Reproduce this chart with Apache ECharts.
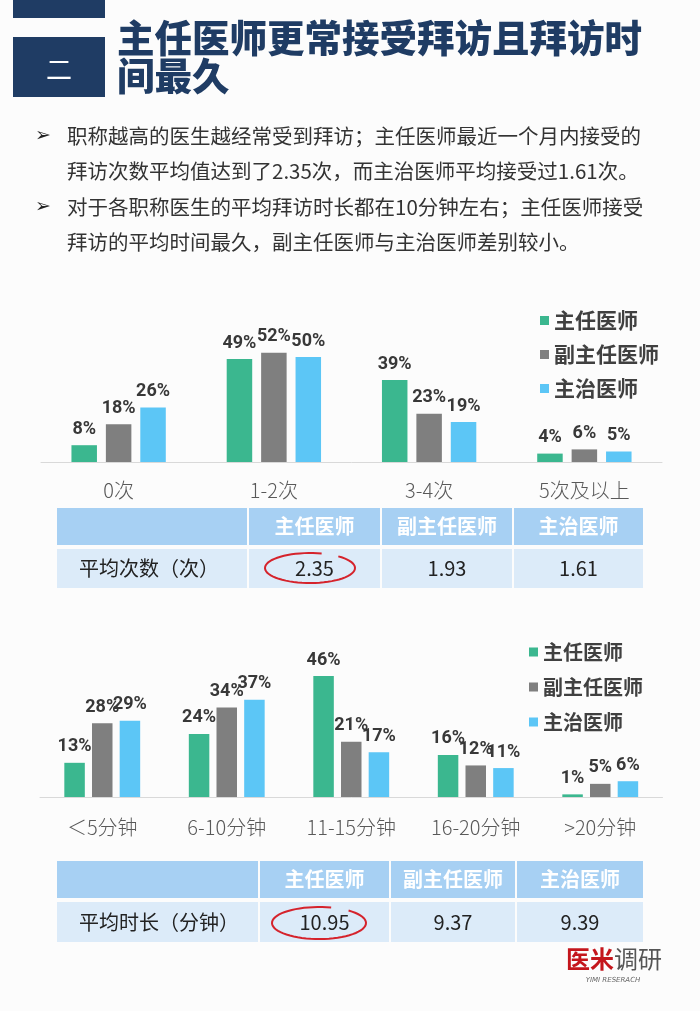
<!DOCTYPE html>
<html>
<head>
<meta charset="utf-8">
<script src="https://cdn.jsdelivr.net/npm/echarts@6/dist/echarts.min.js"></script>
<style>
html,body{margin:0;padding:0;background:#fcfcfc;}
#c{width:700px;height:1011px;}
</style>
</head>
<body>
<div id="c"></div>
<script>
// ---------- data ----------
const seriesNames = ['主任医师', '副主任医师', '主治医师'];
const visitCats = ['0次', '1-2次', '3-4次', '5次及以上'];
const visitZhuren = [8, 49, 39, 4];
const visitFuzhuren = [18, 52, 23, 6];
const visitZhuzhi = [26, 50, 19, 5];

const timeCats = ['＜5分钟', '6-10分钟', '11-15分钟', '16-20分钟', '>20分钟'];
const timeZhuren = [13, 24, 46, 16, 1];
const timeFuzhuren = [28, 34, 21, 12, 5];
const timeZhuzhi = [29, 37, 17, 11, 6];

const tableHeader = ['主任医师', '副主任医师', '主治医师'];
const avgCountLabel = '平均次数（次）';
const avgCount = ['2.35', '1.93', '1.61'];
const avgTimeLabel = '平均时长（分钟）';
const avgTime = ['10.95', '9.37', '9.39'];

const titleLines = ['主任医师更常接受拜访且拜访时', '间最久'];
const bulletLines = [
  ['➢', '职称越高的医生越经常受到拜访；主任医师最近一个月内接受的'],
  ['', '拜访次数平均值达到了2.35次，而主治医师平均接受过1.61次。'],
  ['➢', '对于各职称医生的平均拜访时长都在10分钟左右；主任医师接受'],
  ['', '拜访的平均时间最久，副主任医师与主治医师差别较小。']
];

// ---------- styles ----------
const colors = ['#3bb78f', '#7f7f7f', '#5cc6f6'];
const navy = '#1f3c64';
const CJK = '"Noto Sans CJK SC", "Noto Sans", sans-serif';
const headBg = '#a7d0f3';
const rowBg = '#dcebf9';

const chart = echarts.init(document.getElementById('c'), null, {renderer: 'canvas'});

function barSeries(name, data, idx, color, bw) {
  return {
    name: name, type: 'bar', data: data,
    xAxisIndex: idx, yAxisIndex: idx,
    barWidth: bw, barGap: '35%',
    itemStyle: {color: color},
    label: {
      show: true, position: 'top', distance: 7,
      formatter: '{c}%',
      fontFamily: 'Roboto, "Noto Sans", sans-serif',
      fontWeight: 'bold', fontSize: 18, color: '#383838'
    },
    emphasis: {disabled: true}
  };
}

// ---------- graphics ----------
const g = [];
g.push({type: 'rect', shape: {x: 13, y: 0, width: 92, height: 18}, style: {fill: navy}});
g.push({type: 'rect', shape: {x: 13, y: 37, width: 92, height: 60}, style: {fill: navy}});
g.push({type: 'text', x: 59, y: 69, style: {text: '二', fill: '#fff', font: '26px ' + CJK, align: 'center', verticalAlign: 'middle'}});
titleLines.forEach((t, i) => {
  g.push({type: 'text', x: 117, y: 38 + i * 38, style: {text: t, fill: navy, font: '900 37.5px ' + CJK, verticalAlign: 'middle'}});
});
const bulletY = [136, 171, 207, 242];
bulletLines.forEach((b, i) => {
  if (b[0]) g.push({type: 'text', x: 43, y: bulletY[i], style: {text: b[0], fill: '#222', font: 'bold 19px "DejaVu Sans"', align: 'center', verticalAlign: 'middle'}});
  g.push({type: 'text', x: 67, y: bulletY[i], style: {text: b[1], fill: '#333', font: '20.5px ' + CJK, verticalAlign: 'middle'}});
});

function table(cols, headY, headH, rowY, rowH, label, values) {
  cols.forEach((c, i) => {
    g.push({type: 'rect', shape: {x: c[0], y: headY, width: c[1] - c[0], height: headH}, style: {fill: headBg}});
    g.push({type: 'rect', shape: {x: c[0], y: rowY, width: c[1] - c[0], height: rowH}, style: {fill: rowBg}});
    const cx = (c[0] + c[1]) / 2;
    if (i > 0) {
      g.push({type: 'text', x: cx, y: headY + headH / 2, style: {text: tableHeader[i - 1], fill: '#fff', font: 'bold 20px ' + CJK, align: 'center', verticalAlign: 'middle'}});
      g.push({type: 'text', x: cx, y: rowY + rowH / 2, style: {text: values[i - 1], fill: '#222', font: '20px ' + CJK, align: 'center', verticalAlign: 'middle'}});
    } else {
      g.push({type: 'text', x: c[0] + 22, y: rowY + rowH / 2, style: {text: label, fill: '#222', font: '20px ' + CJK, verticalAlign: 'middle'}});
    }
  });
}
table([[57, 247], [249, 380], [382, 512], [514, 643]], 508, 37, 549, 39, avgCountLabel, avgCount);
table([[57, 258], [260, 389], [391, 515], [517, 643]], 861, 37, 902, 40, avgTimeLabel, avgTime);

// hand-drawn style open ellipse annotation
function circle(cx, cy, rx, ry) {
  const pts = [];
  for (let k = 0; k <= 60; k++) {
    const a = (-75 - k * 5.6) * Math.PI / 180;
    pts.push([cx + rx * Math.cos(a), cy + ry * Math.sin(a)]);
  }
  g.push({type: 'polyline', shape: {points: pts}, style: {stroke: '#d5232c', lineWidth: 2, fill: null}});
}
circle(310, 568, 45, 15);
circle(319, 923, 47, 16);

// logo
g.push({type: 'text', x: 566, y: 959, style: {
  text: '{a|医米}{b|调研}', verticalAlign: 'middle',
  rich: {a: {fill: '#c4161c', font: 'bold 24px ' + CJK}, b: {fill: '#555', font: '24px ' + CJK}}
}});
g.push({type: 'text', x: 613, y: 980, style: {text: 'YIMI RESERACH', fill: '#666', font: 'italic 7px "DejaVu Sans"', align: 'center', verticalAlign: 'middle'}});

const legendCommon = {
  orient: 'vertical', icon: 'rect', itemWidth: 9, itemHeight: 9,
  data: seriesNames, selectedMode: false,
  textStyle: {fontFamily: CJK, fontWeight: 'bold', color: '#404040'}
};

const axisLabelStyle = {fontSize: 20, color: '#595959', fontFamily: CJK, fontWeight: 300};

const option = {
  backgroundColor: '#fcfcfc',
  animation: false,
  color: colors,
  graphic: g,
  legend: [
    Object.assign({}, legendCommon, {left: 535, top: 305, itemGap: 13, textStyle: Object.assign({}, legendCommon.textStyle, {fontSize: 21})}),
    Object.assign({}, legendCommon, {left: 524, top: 637, itemGap: 15, textStyle: Object.assign({}, legendCommon.textStyle, {fontSize: 20})})
  ],
  grid: [
    {left: 41, width: 621, top: 336, height: 126},
    {left: 40, width: 622.5, top: 665.5, height: 131.5}
  ],
  xAxis: [
    {gridIndex: 0, type: 'category', data: visitCats, axisTick: {show: false},
      axisLine: {lineStyle: {color: '#d9d9d9', width: 1}},
      axisLabel: Object.assign({margin: 18}, axisLabelStyle)},
    {gridIndex: 1, type: 'category', data: timeCats, axisTick: {show: false},
      axisLine: {lineStyle: {color: '#d9d9d9', width: 1}},
      axisLabel: Object.assign({margin: 20}, axisLabelStyle)}
  ],
  yAxis: [
    {gridIndex: 0, type: 'value', min: 0, max: 60, show: false},
    {gridIndex: 1, type: 'value', min: 0, max: 50, show: false}
  ],
  series: [
    barSeries(seriesNames[0], visitZhuren, 0, colors[0], 25.5),
    barSeries(seriesNames[1], visitFuzhuren, 0, colors[1], 25.5),
    barSeries(seriesNames[2], visitZhuzhi, 0, colors[2], 25.5),
    barSeries(seriesNames[0], timeZhuren, 1, colors[0], 20.5),
    barSeries(seriesNames[1], timeFuzhuren, 1, colors[1], 20.5),
    barSeries(seriesNames[2], timeZhuzhi, 1, colors[2], 20.5)
  ]
};
chart.setOption(option);
</script>
</body>
</html>
